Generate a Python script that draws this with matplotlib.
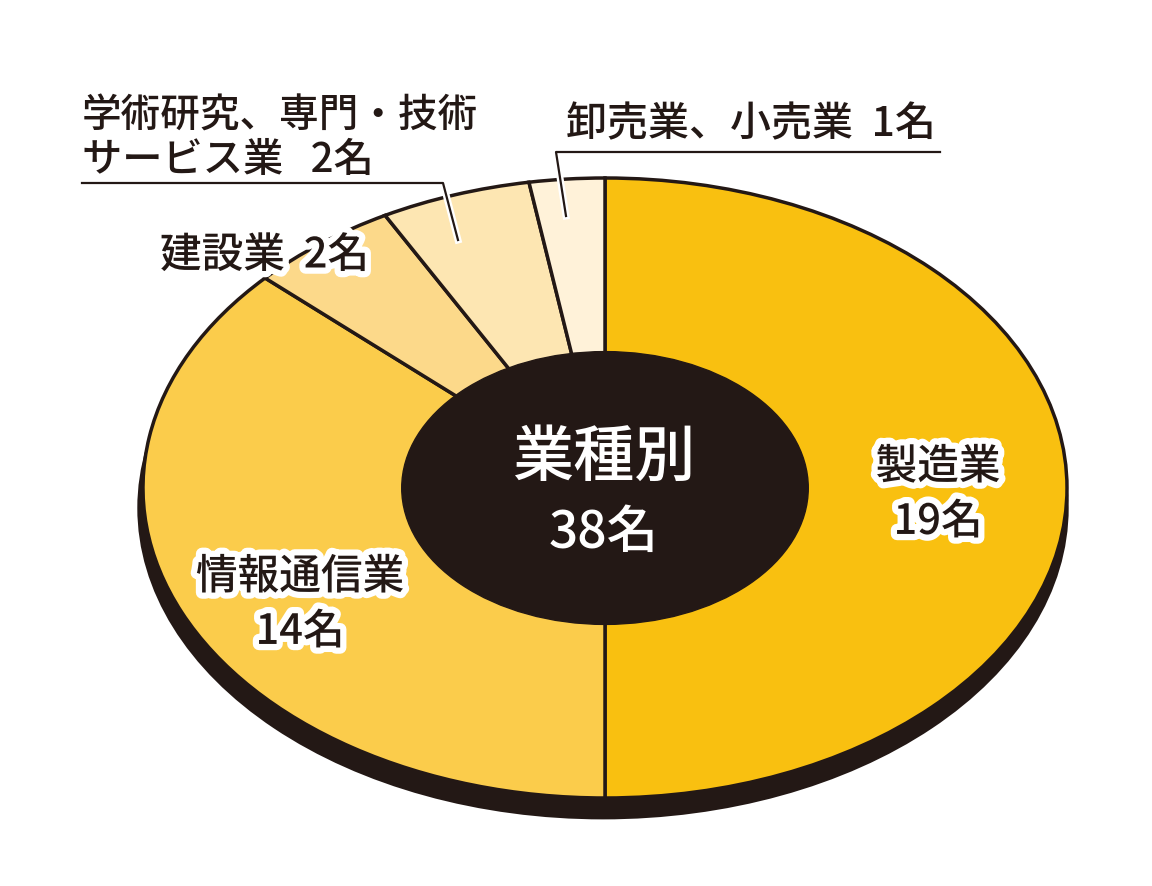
import matplotlib
matplotlib.use('Agg')
import matplotlib.pyplot as plt
from matplotlib.patches import Ellipse
import matplotlib.patheffects as pe

plt.rcParams['font.family'] = ['Noto Sans CJK JP', 'DejaVu Sans']
plt.rcParams['font.weight'] = 'medium'

# data
industries = ['製造業', '情報通信業', '建設業', '学術研究、専門・技術サービス業', '卸売業、小売業']
counts = [19, 14, 2, 2, 1]
total = sum(counts)
colors = ['#F9C010', '#FBCC4B', '#FCD98A', '#FDE6B2', '#FFF2D9']
dark = '#231815'

# pixel layout of the ellipse (centre, semi axes)
CX, CY, RX, RY = 605, 488, 462, 310
W, H = 1152, 886


def to_data(xp, yp):
    return (xp - CX) / RX, (CY - yp) / RY


fig = plt.figure(figsize=(W / 100, H / 100), dpi=100)
ax = fig.add_axes([0, 0, 1, 1])

# dark rim / shadow under the pie
shadow = Ellipse(to_data(CX - 2, CY + 20), 2.01, 2.0, facecolor=dark, edgecolor=dark,
                 linewidth=2, zorder=0)
ax.add_patch(shadow)

ax.pie(counts, colors=colors, startangle=90, counterclock=False, radius=1,
       center=(0, 0), wedgeprops=dict(edgecolor=dark, linewidth=2.5))

# centre hole
ax.add_patch(Ellipse((0, 0), 0.88, 0.88, facecolor=dark, edgecolor=dark, zorder=5))

ax.set_aspect('auto')
ax.set_xlim(-CX / RX, (W - CX) / RX)
ax.set_ylim(-(H - CY) / RY, CY / RY)
ax.axis('off')

halo = [pe.withStroke(linewidth=9, foreground='white')]
line_halo = [pe.Stroke(linewidth=5, foreground='white'), pe.Normal()]

# leader lines
lx, ly = zip(*[to_data(82, 183), to_data(443, 183), to_data(458, 240)])
ax.plot(lx, ly, color=dark, linewidth=1.6, path_effects=line_halo, zorder=6)
lx, ly = zip(*[to_data(940, 152), to_data(556, 152), to_data(566, 216)])
ax.plot(lx, ly, color=dark, linewidth=1.6, path_effects=line_halo, zorder=6)

# centre text
ax.text(*to_data(604, 458), '業種別', color='white', fontsize=44,
        ha='center', va='center', zorder=7)
ax.text(*to_data(604, 533), f'{total}名', color='white', fontsize=37,
        ha='center', va='center', zorder=7)

# slice labels
ax.text(*to_data(938, 494), f'{industries[0]}\n{counts[0]}名', color=dark, fontsize=30,
        ha='center', va='center', linespacing=1.35, path_effects=halo, zorder=7)
ax.text(*to_data(300, 604), f'{industries[1]}\n{counts[1]}名', color=dark, fontsize=30,
        ha='center', va='center', linespacing=1.35, path_effects=halo, zorder=7)
ax.text(*to_data(160, 255), f'{industries[2]}  {counts[2]}名', color=dark, fontsize=30,
        ha='left', va='center', path_effects=halo, zorder=7)
ax.text(*to_data(82, 117), '学術研究、専門・技術', color=dark, fontsize=28.5,
        ha='left', va='center', zorder=7)
ax.text(*to_data(82, 160), f'サービス業   {counts[3]}名', color=dark, fontsize=29,
        ha='left', va='center', zorder=7)
ax.text(*to_data(566, 125), f'{industries[4]}  {counts[4]}名', color=dark, fontsize=29.5,
        ha='left', va='center', zorder=7)

fig.savefig('out.png', dpi=100, facecolor='white')
